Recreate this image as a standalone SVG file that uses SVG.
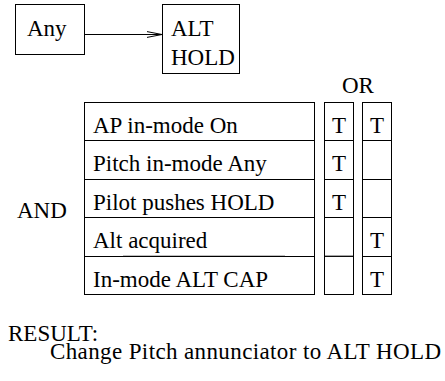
<svg xmlns="http://www.w3.org/2000/svg" width="445" height="381" viewBox="0 0 445 381">
  <style>
    text { font-family: "Liberation Serif", "Times New Roman", serif; font-size: 23px; fill: #000; stroke: none; }
    .box { fill: #fff; stroke: #000; stroke-width: 1; }
    .rule { stroke: #000; stroke-width: 1; fill: none; }
    .heavy { stroke: #000; stroke-width: 1.3; fill: none; }
    .mid { text-anchor: middle; }
  </style>
  <defs>
    <marker id="openArrow" viewBox="0 0 16 8" refX="15.5" refY="4" markerWidth="16" markerHeight="8" markerUnits="userSpaceOnUse" orient="auto">
      <path d="M0,1 L15.5,4 L0,7" fill="none" stroke="#000" stroke-width="1"/>
    </marker>
  </defs>

  <!-- state transition: source and target modes -->
  <g id="node-any">
    <rect class="box" x="15.5" y="4.5" width="69" height="50"/>
    <text x="27" y="36">Any</text>
  </g>
  <g id="node-alt-hold">
    <rect class="box" x="162.5" y="4.5" width="77" height="69"/>
    <text x="171" y="36">ALT</text>
    <text x="171" y="65">HOLD</text>
  </g>
  <g id="connectors">
    <line class="rule" x1="84.5" y1="34.5" x2="162" y2="34.5" marker-end="url(#openArrow)"/>
  </g>

  <!-- condition table -->
  <g id="conditions">
    <rect class="box" x="84.5" y="102.5" width="230" height="192"/>
    <line class="rule" x1="84.5" y1="140.5" x2="314.5" y2="140.5"/>
    <line class="rule" x1="84.5" y1="179.5" x2="314.5" y2="179.5"/>
    <line class="rule" x1="84.5" y1="217.5" x2="314.5" y2="217.5"/>
    <line class="rule" x1="84.5" y1="256.5" x2="314.5" y2="256.5"/>
    <line class="heavy" x1="123" y1="256.3" x2="285" y2="256.3"/>
    <text x="93" y="133">AP in-mode On</text>
    <text x="93" y="171">Pitch in-mode Any</text>
    <text x="93" y="210">Pilot pushes HOLD</text>
    <text x="93" y="248">Alt acquired</text>
    <text x="93" y="287">In-mode ALT CAP</text>
  </g>
  <g id="and-label">
    <text x="17" y="218">AND</text>
  </g>

  <!-- OR columns of truth values -->
  <g id="or-label">
    <text x="342" y="93">OR</text>
  </g>
  <g id="column-1">
    <rect class="box" x="324.5" y="102.5" width="29" height="192"/>
    <line class="rule" x1="324.5" y1="140.5" x2="353.5" y2="140.5"/>
    <line class="rule" x1="324.5" y1="179.5" x2="353.5" y2="179.5"/>
    <line class="rule" x1="324.5" y1="217.5" x2="353.5" y2="217.5"/>
    <line class="heavy" x1="324.5" y1="256.3" x2="353.5" y2="256.3"/>
    <text class="mid" x="339" y="133">T</text>
    <text class="mid" x="339" y="171">T</text>
    <text class="mid" x="339" y="210">T</text>
  </g>
  <g id="column-2">
    <rect class="box" x="362.5" y="102.5" width="29" height="192"/>
    <line class="rule" x1="362.5" y1="140.5" x2="391.5" y2="140.5"/>
    <line class="rule" x1="362.5" y1="179.5" x2="391.5" y2="179.5"/>
    <line class="rule" x1="362.5" y1="217.5" x2="391.5" y2="217.5"/>
    <line class="rule" x1="362.5" y1="256.5" x2="391.5" y2="256.5"/>
    <text class="mid" x="377" y="133">T</text>
    <text class="mid" x="377" y="248">T</text>
    <text class="mid" x="377" y="287">T</text>
  </g>

  <!-- outcome -->
  <g id="result">
    <text x="8" y="341">RESULT:</text>
    <text x="50" y="359" textLength="391" lengthAdjust="spacing">Change Pitch annunciator to ALT HOLD</text>
  </g>
</svg>
